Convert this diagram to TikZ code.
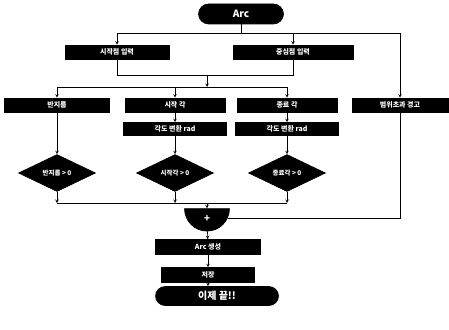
\documentclass[tikz,border=0pt]{standalone}
\usepackage{fontspec}
\setmainfont{Noto Sans CJK KR}
\usetikzlibrary{shapes.geometric,shapes.misc}

\tikzset{
    blk/.style={draw,fill=black,text=white,minimum height=14pt,inner sep=1pt,
        font=\fontsize{7}{8}\selectfont\bfseries},
    term/.style={rounded rectangle,draw,fill=black,text=white,inner sep=1pt,
        font=\fontsize{10}{11}\selectfont\bfseries},
    dia/.style={diamond,aspect=2.1,draw,fill=black,text=white,inner sep=0pt,
        minimum width=77pt,minimum height=37pt,font=\fontsize{6.5}{7}\selectfont\bfseries},
    mrg/.style={semicircle,rotate=180,draw,fill=black,text=white,inner sep=0pt,
        minimum width=45pt,minimum height=22pt,font=\bfseries},
}

\begin{document}
\begin{tikzpicture}[>=stealth,x=1pt,y=-1pt,semithick]
    \useasboundingbox (0,0) rectangle (449,329);

    \node[term,minimum width=87pt,minimum height=20pt] (start) at (241,14) {Arc};

    \node[blk,minimum width=104pt] (a1) at (117,52) {시작점 입력};
    \node[blk,minimum width=120pt] (a2) at (293,52) {중심점 입력};

    \node[blk,minimum width=105pt] (b1) at (57,105) {반지름};
    \node[blk,minimum width=100pt] (b2) at (175,105) {시작 각};
    \node[blk,minimum width=100pt] (b3) at (287,105) {종료 각};
    \node[blk,minimum width=96pt] (b4) at (400,105) {범위초과 경고};

    \node[blk,minimum width=103pt,minimum height=13pt] (c2) at (175,129) {각도 변환 rad};
    \node[blk,minimum width=103pt,minimum height=13pt] (c3) at (287,129) {각도 변환 rad};

    \node[dia] (d1) at (57,173) {반지름 > 0};
    \node[dia] (d2) at (175,173) {시작각 > 0};
    \node[dia] (d3) at (287,173) {종료각 > 0};

    \node[mrg] (merge) at (207,218) {+};

    \node[blk,minimum width=105pt,minimum height=15pt] (e1) at (208,247) {Arc 생성};
    \node[blk,minimum width=93pt,minimum height=15pt] (e2) at (208,275) {저장};
    \node[term,minimum width=125pt,minimum height=19pt] (stop) at (217,296) {이제 끝!!};

    \coordinate (t1) at (241,33);
    \coordinate (j1) at (207,75);
    \coordinate (j2) at (207,87);
    \coordinate (j3) at (207,203);

    % Arc -> 입력
    \draw (start) -- (t1);
    \draw[->] (t1) -| (a1);
    \draw[->] (t1) -| (a2);
    \draw[->] (t1) -| (b4);

    \draw (a1) |- (j1);
    \draw (a2) |- (j1);
    \draw[->] (j1) -- (j2);
    \draw[->] (j2) -| (b1);
    \draw[->] (j2) -| (b2);
    \draw[->] (j2) -| (b3);

    \draw[->] (b1) -- (d1);
    \draw[->] (b2) -- (c2);
    \draw[->] (b3) -- (c3);
    \draw[->] (c2) -- (d2);
    \draw[->] (c3) -- (d3);

    % 모으기
    \draw[->] (d1) -- (d1 |- j3);
    \draw[->] (d2) -- (d2 |- j3);
    \draw[->] (d3) -- (d3 |- j3);
    \draw (d1 |- j3) -- (d3 |- j3);
    \draw[->] (j3) -- (merge);
    \draw (b4) |- (merge);

    \draw[->] (merge) -- (e1);
    \draw[->] (e1) -- (e2);
    \draw[->] (e2) -- (e2 |- stop.north);
\end{tikzpicture}
\end{document}
